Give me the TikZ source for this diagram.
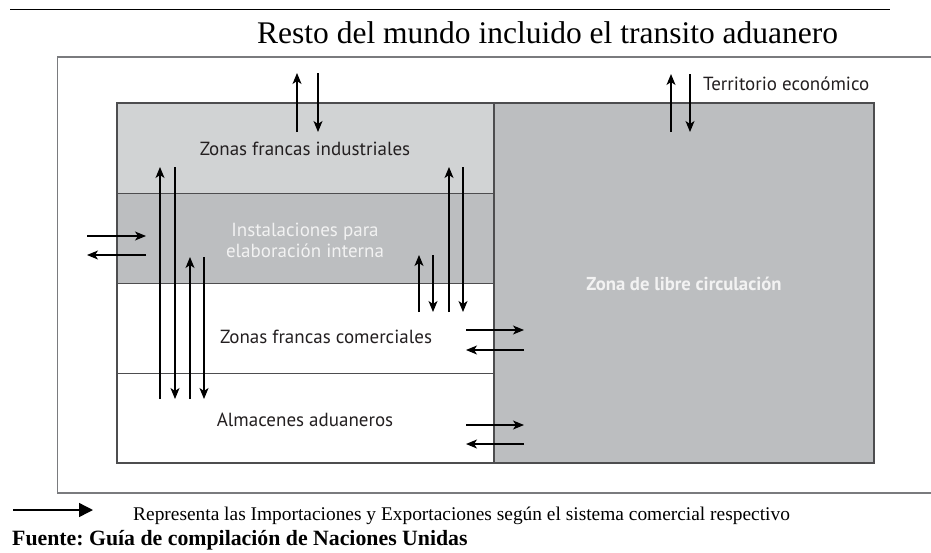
\documentclass[tikz,border=0pt]{standalone}
\usepackage{fontspec}
\setmainfont{Liberation Serif}
\newfontfamily\zonefont{PT Sans}
\usetikzlibrary{arrows.meta}
\definecolor{zoneA}{HTML}{D1D3D4}
\definecolor{zoneB}{HTML}{BCBEC0}
\definecolor{frameC}{HTML}{7A7B7E}
\definecolor{edgeC}{HTML}{4D4D4F}
\definecolor{lightT}{HTML}{F2F2F2}
\definecolor{darkT}{HTML}{231F20}
\tikzset{
  zone/.style={draw=edgeC, line width=1pt, inner sep=0pt, outer sep=0pt, anchor=north west},
  zlabel/.style={font=\zonefont\fontsize{19}{21}\selectfont, inner sep=0pt, text=darkT},
  flow/.style={-{Stealth[length=11pt,width=9pt,inset=3pt]}, line width=1.2pt},
  legendarrow/.style={-{Triangle[length=14pt,width=14pt]}, line width=1.4pt},
}
\begin{document}
\frenchspacing
\begin{tikzpicture}[x=1pt,y=-1pt]
\useasboundingbox (0,0) rectangle (931,552);
% top rule
\coordinate (ruleL) at (10,9);
\coordinate (ruleR) at (890,9);
\draw[line width=1pt] (ruleL) -- (ruleR);
% title
\node[anchor=base west, inner sep=0pt, font=\fontsize{31.5}{36}\selectfont] (title) at (257,43) {Resto del mundo incluido el transito aduanero};
% outer frame (territorio economico)
\coordinate (fTR) at (945,57);
\coordinate (fTL) at (57.5,57);
\coordinate (fBL) at (57.5,493);
\coordinate (fBR) at (945,493);
\draw[frameC, line width=1.6pt] (fTR) -- (fTL) -- (fBL) -- (fBR);
\node[zlabel, anchor=west] (terr) at (703,84) {Territorio económico};
% zones
\node[zone, fill=zoneB, minimum width=380pt, minimum height=360pt] (zlc) at (494,103) {};
\node[zone, fill=zoneA, minimum width=377pt, minimum height=90pt] (zfi) at (117,103) {};
\node[zone, fill=zoneB, minimum width=377pt, minimum height=90pt] (inst) at (117,193) {};
\node[zone, fill=white, minimum width=377pt, minimum height=90pt] (zfc) at (117,283) {};
\node[zone, fill=white, minimum width=377pt, minimum height=90pt] (alm) at (117,373) {};
\draw[edgeC, line width=1.6pt] (zfi.north west) rectangle (zlc.south east);
\draw[edgeC, line width=1.6pt] (zlc.north west) -- (zlc.south west);
% zone labels
\node[zlabel] (lzfi) at (305,149) {Zonas francas industriales};
\node[zlabel, text=lightT, align=center] (linst) at (305,240) {Instalaciones para\\elaboración interna};
\node[zlabel] (lzfc) at (326,337) {Zonas francas comerciales};
\node[zlabel] (lalm) at (305,420) {Almacenes aduaneros};
\node[zlabel, text=lightT, font=\zonefont\bfseries\fontsize{18.7}{21}\selectfont] (lzlc) at (684,284) {Zona de libre circulación};
% vertical flows
\foreach \n/\x/\ya/\yb in {
  a/297/132/73, b/318/73/132,
  c/671/132/74, d/690/74/132,
  e/160/399/167, f/175/167/399, g/190/399/257, h/204/257/399,
  i/419/312/255, j/433/255/312, k/449/312/167, l/463/167/312}{
  \coordinate (v\n s) at (\x,\ya);
  \coordinate (v\n e) at (\x,\yb);
  \draw[flow] (v\n s) -- (v\n e);
}
% horizontal flows
\foreach \n/\y/\xa/\xb in {
  m/236/87/146, n/255/146/87,
  o/330/466/524, p/350/524/466,
  q/425/466/524, r/444/524/466}{
  \coordinate (h\n s) at (\xa,\y);
  \coordinate (h\n e) at (\xb,\y);
  \draw[flow] (h\n s) -- (h\n e);
}
% legend
\coordinate (legS) at (13,510);
\coordinate (legE) at (93,510);
\draw[legendarrow] (legS) -- (legE);
\node[anchor=base west, inner sep=0pt, font=\fontsize{19.4}{22}\selectfont] (legtext) at (133,520) {Representa las Importaciones y Exportaciones según el sistema comercial respectivo};
\node[anchor=base west, inner sep=0pt, font=\bfseries\fontsize{21.8}{24}\selectfont] (fuente) at (12,545) {Fuente: Guía de compilación de Naciones Unidas};
\end{tikzpicture}
\end{document}
